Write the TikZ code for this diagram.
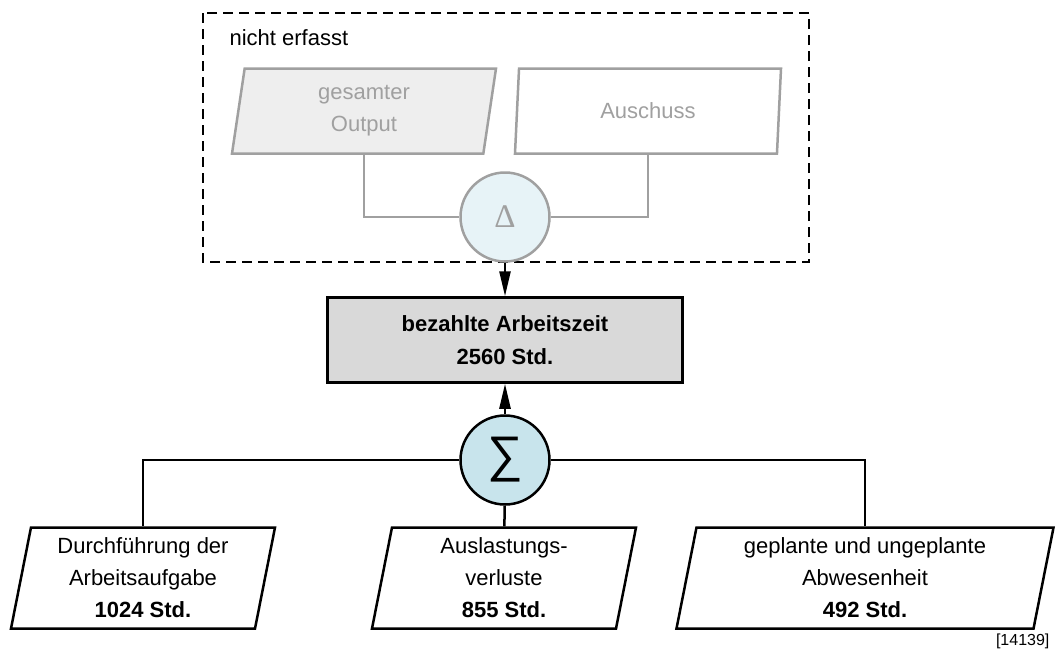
\documentclass[tikz,border=0pt]{standalone}
\usepackage{fontspec}
\setmainfont{Liberation Sans}
\newfontfamily\grfont{Liberation Serif}
\usetikzlibrary{shapes.geometric}
\usetikzlibrary{arrows.meta}
\definecolor{gray1}{RGB}{160, 160, 160}
\definecolor{gray2}{RGB}{238, 238, 238}
\definecolor{gray3}{RGB}{217, 217, 217}
\definecolor{blue1}{RGB}{231, 243, 247}
\definecolor{blue2}{RGB}{200, 228, 236}

\begin{document}
\begin{tikzpicture}[x=1pt, y=-1pt, line width=2.5pt, font=\fontsize{22}{32}\selectfont,
  para/.style={trapezium, trapezium left angle=76, trapezium right angle=104,
    trapezium stretches body, draw, fill=white, align=center, inner sep=0pt,
    minimum height=101pt},
  op/.style={circle, draw, minimum size=89pt, inner sep=0pt},
  arr/.style={-{Triangle[length=25pt,width=11pt]}}]
  \useasboundingbox (0,0) rectangle (1056,659);
  % nicht erfasst
  \draw[dash pattern=on 10pt off 6pt] (203,13) rectangle (809,262);
  \node[anchor=base west] (ne) at (225,45) {nicht erfasst};
  \node[para, draw=gray1, fill=gray2, text=gray1, minimum width=264pt, minimum height=85pt] (out) at (364,111) {gesamter\\Output};
  \node[para, draw=gray1, text=gray1, minimum width=266pt, minimum height=85pt] (ausch) at (648,111) {Auschuss};
  \node[op, draw=gray1, fill=blue1, text=gray1, font=\grfont\fontsize{33}{33}\selectfont] (delta) at (505,217) {\raisebox{-3pt}{Δ}};
  % bezahlte Arbeitszeit
  \node[draw, fill=gray3, minimum width=355pt, minimum height=85pt, align=center, font=\bfseries\fontsize{22}{33}\selectfont] (paid) at (505,340) {bezahlte Arbeitszeit\\2560 Std.};
  \node[op, fill=blue2, font=\fontsize{50}{50}\selectfont] (sum) at (505,460) {∑};
  \node[para, minimum width=264pt] (dur) at (143,578) {Durchführung der\\Arbeitsaufgabe\\\textbf{1024 Std.}};
  \node[para, minimum width=264pt] (ausl) at (504,578) {Auslastungs-\\verluste\\\textbf{855 Std.}};
  \node[para, minimum width=377pt] (abw) at (865,578) {geplante und ungeplante\\Abwesenheit\\\textbf{492 Std.}};
  \node[anchor=base east, font=\fontsize{16}{16}\selectfont] (nr) at (1054,645) {[14139]};
  % Verbindungen
  \foreach \from in {out, ausch}
    \draw[gray1] (\from) |- (delta);
  \draw[arr] (delta) -- (paid);
  \draw[arr] (sum) -- (paid);
  \foreach \to in {dur, abw}
    \draw (sum) -| (\to);
  \draw (sum) -- (ausl);
\end{tikzpicture}
\end{document}
